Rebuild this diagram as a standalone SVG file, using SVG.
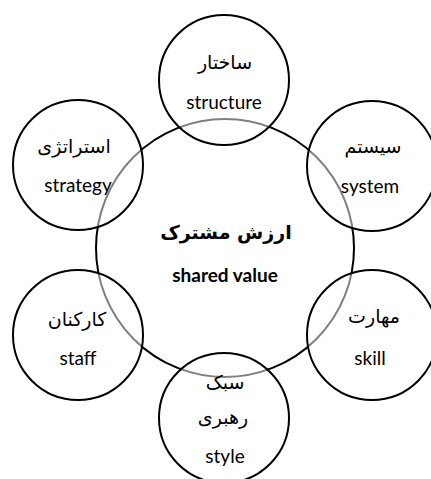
<svg xmlns="http://www.w3.org/2000/svg" width="431" height="479" viewBox="0 0 431 479">
<style>
.big{fill:#fff;stroke:#000;stroke-width:2}
.sm{fill:#fff;fill-opacity:0.5;stroke:#000;stroke-width:2}
.en{font-family:Lato,"Open Sans","DejaVu Sans",sans-serif;font-size:19px;fill:#000;text-anchor:middle}
.fa{font-family:"DejaVu Sans",sans-serif;font-size:19px;fill:#000;text-anchor:middle}
.b{font-weight:bold}
</style>
<rect width="431" height="479" fill="#fff"/>
<g id="shared-value">
<circle class="big" cx="225" cy="248" r="129"/>
<text class="fa b" x="226" y="239" font-size="25">ارزش مشترک</text>
<text class="en b" x="225" y="282" font-size="20.5">shared value</text>
</g>
<g id="structure">
<circle class="sm" cx="224" cy="80" r="65"/>
<text class="fa" x="225" y="69">ساختار</text>
<text class="en" x="224" y="109">structure</text>
</g>
<g id="strategy">
<circle class="sm" cx="78" cy="165" r="65"/>
<text class="fa" x="74" y="153">استراتژی</text>
<text class="en" x="78" y="192">strategy</text>
</g>
<g id="system">
<circle class="sm" cx="372" cy="166" r="65"/>
<text class="fa" x="373" y="153">سیستم</text>
<text class="en" x="370" y="193">system</text>
</g>
<g id="staff">
<circle class="sm" cx="78" cy="335" r="65"/>
<text class="fa" x="77" y="326">کارکنان</text>
<text class="en" x="78" y="365">staff</text>
</g>
<g id="skill">
<circle class="sm" cx="372" cy="335" r="65"/>
<text class="fa" x="374" y="323">مهارت</text>
<text class="en" x="370" y="365">skill</text>
</g>
<g id="style">
<circle class="sm" cx="224" cy="418" r="65"/>
<text class="fa" x="225" y="389">سبک</text>
<text class="fa" x="223" y="424">رهبری</text>
<text class="en" x="225" y="463">style</text>
</g>
</svg>
